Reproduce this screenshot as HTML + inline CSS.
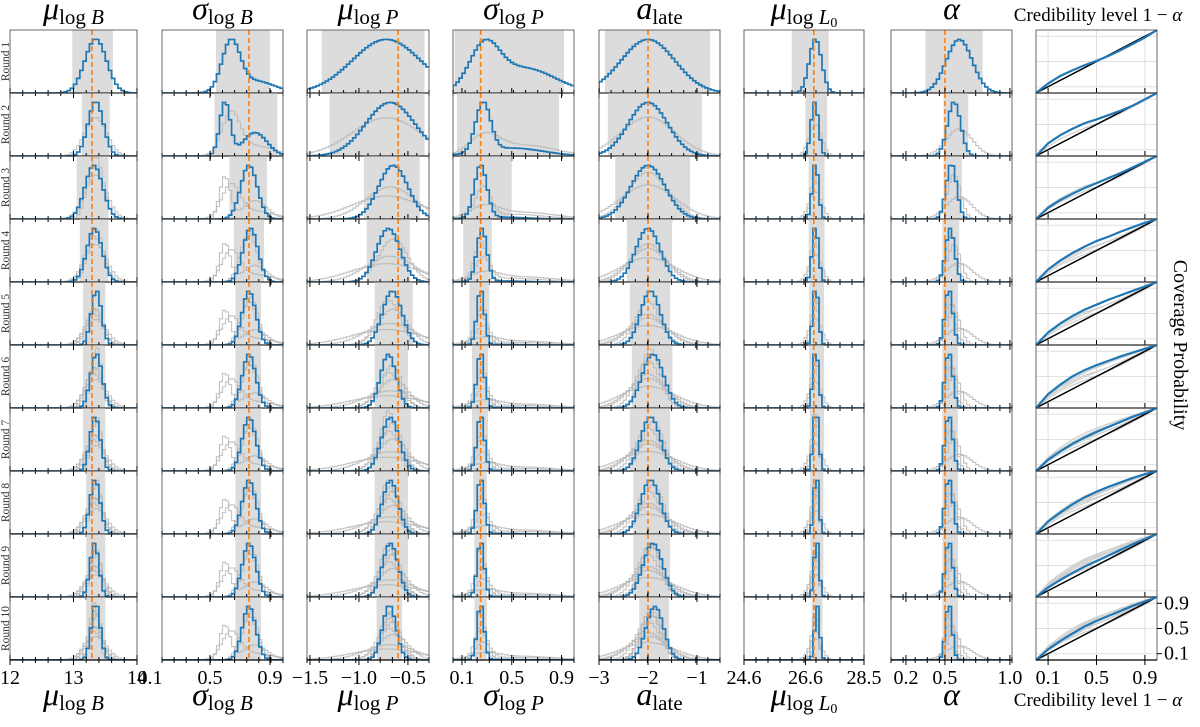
<!DOCTYPE html>
<html><head><meta charset="utf-8"><style>
html,body{margin:0;padding:0;background:#fff;}
svg{display:block;font-family:"Liberation Serif",serif;}
</style></head><body>
<svg id="fig" width="1200" height="727" viewBox="0 0 1200 727" xmlns="http://www.w3.org/2000/svg"></svg>
<script>
// ---- data (per round 1..10) ----
const rounds = [1,2,3,4,5,6,7,8,9,10];
// mu_log_B
const muB_truth = 13.29;
const muB_mean = [13.35,13.35,13.32,13.33,13.36,13.36,13.34,13.34,13.33,13.35];
const muB_sd   = [0.17,0.12,0.14,0.12,0.08,0.09,0.08,0.08,0.07,0.07];
const muB_lo   = [12.98,13.13,13.05,13.1,13.15,13.15,13.15,13.2,13.2,13.2];
const muB_hi   = [13.62,13.57,13.55,13.55,13.5,13.5,13.5,13.5,13.5,13.5];
// sigma_log_B
const sgB_truth = 0.76;
const sgB_mean = [0.64,0.6,0.76,0.77,0.76,0.76,0.76,0.76,0.76,0.76];
const sgB_sd   = [0.06,0.035,0.055,0.05,0.045,0.045,0.045,0.045,0.045,0.045];
const sgB_mean2= [0.8,0.8,0.76,0.77,0.76,0.76,0.76,0.76,0.76,0.76];
const sgB_sd2  = [0.13,0.08,0.1,0.1,0.1,0.1,0.1,0.1,0.1,0.1];
const sgB_w2   = [0.35,0.5,0,0,0,0,0,0,0,0];
const sgB_lo   = [0.54,0.53,0.63,0.66,0.67,0.67,0.67,0.67,0.67,0.67];
const sgB_hi   = [0.9,0.95,0.88,0.86,0.84,0.84,0.84,0.84,0.84,0.84];
// mu_log_P
const muP_truth = -0.6;
const muP_mean = [-0.72,-0.68,-0.65,-0.7,-0.66,-0.7,-0.68,-0.68,-0.68,-0.69];
const muP_sd   = [0.35,0.25,0.15,0.12,0.1,0.08,0.09,0.08,0.08,0.07];
const muP_lo   = [-1.38,-1.3,-0.95,-0.92,-0.84,-0.84,-0.87,-0.84,-0.84,-0.82];
const muP_hi   = [-0.33,-0.33,-0.38,-0.48,-0.45,-0.5,-0.47,-0.5,-0.5,-0.56];
// sigma_log_P
const sgP_truth = 0.25;
const sgP_mean = [0.28,0.27,0.25,0.26,0.25,0.25,0.25,0.25,0.25,0.25];
const sgP_sd   = [0.12,0.06,0.05,0.04,0.03,0.03,0.03,0.03,0.028,0.028];
const sgP_mean2= [0.6,0.5,0.4,0.4,0.4,0.4,0.4,0.4,0.4,0.4];
const sgP_sd2  = [0.25,0.25,0.2,0.2,0.2,0.2,0.2,0.2,0.2,0.2];
const sgP_w2   = [0.55,0.4,0.12,0.08,0.05,0.05,0.05,0.05,0.05,0.05];
const sgP_lo   = [0.04,0.06,0.08,0.11,0.16,0.18,0.18,0.19,0.2,0.2];
const sgP_hi   = [0.92,0.88,0.5,0.34,0.32,0.31,0.31,0.3,0.3,0.3];
// a_late
const aL_truth = -2.0;
const aL_mean = [-2.0,-2.0,-2.0,-2.0,-1.95,-1.9,-1.95,-1.95,-1.9,-1.86];
const aL_sd   = [0.55,0.4,0.35,0.25,0.2,0.22,0.2,0.2,0.2,0.18];
const aL_lo   = [-2.88,-2.82,-2.67,-2.43,-2.37,-2.33,-2.37,-2.3,-2.3,-2.18];
const aL_hi   = [-0.73,-0.9,-1.14,-1.51,-1.55,-1.5,-1.55,-1.57,-1.55,-1.57];
// mu_log_L0
const L0_truth = 26.87;
const L0_mean = [26.92,26.9,26.92,26.92,26.93,26.93,26.94,26.95,26.96,26.98];
const L0_sd   = [0.2,0.12,0.1,0.1,0.09,0.09,0.09,0.08,0.08,0.08];
const L0_lo   = [26.15,26.6,26.7,26.7,26.72,26.72,26.74,26.75,26.76,26.8];
const L0_hi   = [27.35,27.3,27.22,27.22,27.2,27.2,27.2,27.18,27.18,27.15];
// alpha
const al_truth = 0.5;
const al_mean = [0.61,0.57,0.55,0.54,0.53,0.53,0.53,0.53,0.53,0.53];
const al_sd   = [0.1,0.05,0.04,0.035,0.03,0.03,0.03,0.03,0.028,0.025];
const al_lo   = [0.35,0.49,0.49,0.48,0.48,0.48,0.48,0.48,0.48,0.48];
const al_hi   = [0.79,0.68,0.63,0.61,0.6,0.6,0.6,0.6,0.6,0.6];
// coverage
const credLevels = [0,0.1,0.2,0.3,0.4,0.5,0.6,0.7,0.8,0.9,1];
const cov1 = [0,0.15,0.27,0.36,0.44,0.51,0.59,0.68,0.78,0.88,1];
const cov2 = [0,0.2,0.33,0.43,0.52,0.58,0.65,0.72,0.8,0.9,1];
const cov3 = [0,0.18,0.3,0.4,0.49,0.57,0.65,0.73,0.82,0.91,1];
const cov4 = [0,0.2,0.34,0.46,0.56,0.65,0.72,0.8,0.87,0.94,1];
const cov5 = [0,0.2,0.34,0.46,0.56,0.64,0.72,0.79,0.86,0.93,1];
const cov6 = [0,0.22,0.37,0.5,0.6,0.68,0.75,0.82,0.88,0.94,1];
const cov7 = [0,0.18,0.31,0.43,0.53,0.62,0.7,0.78,0.86,0.93,1];
const cov8 = [0,0.2,0.34,0.47,0.58,0.67,0.75,0.82,0.89,0.95,1];
const cov9 = [0,0.15,0.27,0.38,0.48,0.57,0.66,0.75,0.84,0.92,1];
const cov10= [0,0.17,0.3,0.42,0.53,0.62,0.7,0.78,0.86,0.93,1];
const coverage = [cov1,cov2,cov3,cov4,cov5,cov6,cov7,cov8,cov9,cov10];
const covTicks = [0.1,0.5,0.9];
const covTickLabels = ['0.1','0.5','0.9'];

const zeros = rounds.map(()=>0);
const cols = [
 {key:'mu-log-b', L:10, W:127, d0:12.0, d1:14.0, truth:muB_truth, m:muB_mean, s:muB_sd, m2:muB_mean, s2:muB_sd, w2:zeros, lo:muB_lo, hi:muB_hi, ticks:[12,13,14], labels:['12','13','14'], title:['μ','log ','B']},
 {key:'sigma-log-b', L:162, W:121, d0:0.18, d1:0.987, truth:sgB_truth, m:sgB_mean, s:sgB_sd, m2:sgB_mean2, s2:sgB_sd2, w2:sgB_w2, lo:sgB_lo, hi:sgB_hi, ticks:[0.1,0.5,0.9], labels:['0.1','0.5','0.9'], title:['σ','log ','B']},
 {key:'mu-log-p', L:307, W:122, d0:-1.53, d1:-0.285, truth:muP_truth, m:muP_mean, s:muP_sd, m2:muP_mean, s2:muP_sd, w2:zeros, lo:muP_lo, hi:muP_hi, ticks:[-1.5,-1.0,-0.5], labels:['−1.5','−1.0','−0.5'], title:['μ','log ','P']},
 {key:'sigma-log-p', L:453, W:121, d0:0.028, d1:1.0, truth:sgP_truth, m:sgP_mean, s:sgP_sd, m2:sgP_mean2, s2:sgP_sd2, w2:sgP_w2, lo:sgP_lo, hi:sgP_hi, ticks:[0.1,0.5,0.9], labels:['0.1','0.5','0.9'], title:['σ','log ','P']},
 {key:'a-late', L:599, W:121, d0:-3.0, d1:-0.53, truth:aL_truth, m:aL_mean, s:aL_sd, m2:aL_mean, s2:aL_sd, w2:zeros, lo:aL_lo, hi:aL_hi, ticks:[-3,-2,-1], labels:['−3','−2','−1'], title:['a','late','']},
 {key:'mu-log-l0', L:744, W:120, d0:24.6, d1:28.5, truth:L0_truth, m:L0_mean, s:L0_sd, m2:L0_mean, s2:L0_sd, w2:zeros, lo:L0_lo, hi:L0_hi, ticks:[24.6,26.6,28.5], labels:['24.6','26.6','28.5'], title:['μ','log ','L0']},
 {key:'alpha', L:891, W:121, d0:0.085, d1:1.016, truth:al_truth, m:al_mean, s:al_sd, m2:al_mean, s2:al_sd, w2:zeros, lo:al_lo, hi:al_hi, ticks:[0.2,0.5,1.0], labels:['0.2','0.5','1.0'], title:['α','','']}
];
const TOP=30, RH=63, NB=40;
const CL=1036, CW=121;
const NS='http://www.w3.org/2000/svg';
const svg=document.getElementById('fig');
function mk(tag,attrs,parent){const e=document.createElementNS(NS,tag);for(const k in attrs)e.setAttribute(k,attrs[k]);(parent||svg).appendChild(e);return e;}
function dens(c,r,v){const g=(x,m,s)=>Math.exp(-0.5*((x-m)/s)**2)/s;const w=c.w2[r];return (1-w)*g(v,c.m[r],c.s[r])+w*g(v,c.m2[r],c.s2[r]);}
const defs=mk('defs',{});

cols.forEach((c,ci)=>{
  const xs=v=>c.L+(v-c.d0)/(c.d1-c.d0)*c.W;
  rounds.forEach((rn,r)=>{
    const y0=TOP+r*RH, yb=y0+RH;
    const g=mk('g',{});
    
    
    const cp=mk('clipPath',{id:'cp'+ci+'_'+r},defs);
    mk('rect',{x:c.L,y:y0,width:c.W,height:RH},cp);
    const band=mk('rect',{x:xs(c.lo[r]),y:y0,width:xs(c.hi[r])-xs(c.lo[r]),height:RH,fill:'#dcdcdc','clip-path':'url(#cp'+ci+'_'+r+')'},g);
    
    
    const bw=(c.d1-c.d0)/NB;
    const hist=rr=>{const a=[];for(let i=0;i<NB;i++)a.push(dens(c,rr,c.d0+(i+0.5)*bw));return a;};
    const cur=hist(r);const mx=Math.max(...cur);
    const ys=d=>yb-d/mx*RH*0.85;
    const path=h=>{let p='M'+c.L+','+yb;for(let i=0;i<NB;i++){const xa=xs(c.d0+i*bw),xb=xs(c.d0+(i+1)*bw),yy=ys(h[i]);p+=' L'+xa+','+yy+' L'+xb+','+yy;}return p;};
    for(let pr=0;pr<r;pr++){
      const gp=mk('path',{d:path(hist(pr)),fill:'none',stroke:'#b8b8b8','stroke-width':1.2,opacity:0.8,'clip-path':'url(#cp'+ci+'_'+r+')'},g);
      
      
    }
    const bp=mk('path',{d:path(cur),fill:'none',stroke:'#1f77b4','stroke-width':1.7,'clip-path':'url(#cp'+ci+'_'+r+')'},g);
    
    
    const tl=mk('line',{x1:xs(c.truth),x2:xs(c.truth),y1:y0,y2:yb,stroke:'#ff7f0e','stroke-width':1.6,'stroke-dasharray':'5,3'},g);
    
    
    mk('rect',{x:c.L,y:y0,width:c.W,height:RH,fill:'none',stroke:'#444','stroke-width':0.8},g);
    mk('line',{x1:c.L,x2:c.L+c.W,y1:yb,y2:yb,stroke:'#000','stroke-width':1.2},g);
    for(let k=0;k<=10;k++){const tx=c.L+k*c.W/10;mk('line',{x1:tx,x2:tx,y1:yb-3,y2:yb+3,stroke:'#000','stroke-width':1},g);}
    c.ticks.forEach(tv=>{const tx=xs(tv);if(tx>=c.L-1&&tx<=c.L+c.W+1)mk('line',{x1:tx,x2:tx,y1:yb-5,y2:yb+5,stroke:'#000','stroke-width':1},g);});
  });
  // titles (drawn after panels)
  const t=mk('text',{x:c.L+c.W/2,y:19,'text-anchor':'middle','font-size':32});
  
  
  const t2=mk('text',{x:c.L+c.W/2,y:705,'text-anchor':'middle','font-size':32});
  
  
  [t,t2].forEach(tt=>{
    mk('tspan',{'font-style':'italic'},tt).textContent=c.title[0];
    if(c.title[1]){const s=mk('tspan',{'font-size':21,dy:5},tt);s.textContent=c.title[1];}
    if(c.title[2]==='L0'){mk('tspan',{'font-size':21,'font-style':'italic'},tt).textContent='L';mk('tspan',{'font-size':14,dy:3},tt).textContent='0';}
    else if(c.title[2]){mk('tspan',{'font-size':21,'font-style':'italic'},tt).textContent=c.title[2];}
  });
  c.ticks.forEach((tv,i)=>{
    const tt=mk('text',{x:xs(tv),y:684,'text-anchor':'middle','font-size':20});
    
    
    tt.textContent=c.labels[i];
  });
});
// round labels
rounds.forEach((rn,r)=>{
  const yc=TOP+r*RH+RH/2;
  const t=mk('text',{x:0,y:0,transform:'translate(9,'+yc+') rotate(-90)','text-anchor':'middle','font-size':11.5,fill:'#333'});
  
  
  t.textContent='Round '+rn;
});
// coverage panels
const cx=v=>CL+v*CW;
rounds.forEach((rn,r)=>{
  const y0=TOP+r*RH, yb=y0+RH;
  const cy=v=>yb-v*RH;
  const g=mk('g',{});
  
  
  covTicks.forEach(v=>{
    mk('line',{x1:cx(v),x2:cx(v),y1:y0,y2:yb,stroke:'#e0e0e0','stroke-width':1},g);
    mk('line',{x1:CL,x2:CL+CW,y1:cy(v),y2:cy(v),stroke:'#e0e0e0','stroke-width':1},g);
  });
  const lp=arr=>credLevels.map((v,i)=>(i?'L':'M')+cx(v)+','+cy(arr[i])).join(' ');
  for(let pr=0;pr<r;pr++){const p=mk('path',{d:lp(coverage[pr]),fill:'none',stroke:'#cfcfcf','stroke-width':1.2},g);
    
    }
  const d=mk('line',{x1:cx(0),y1:cy(0),x2:cx(1),y2:cy(1),stroke:'#000','stroke-width':1.5},g);
  
  
  const b=mk('path',{d:lp(coverage[r]),fill:'none',stroke:'#1f77b4','stroke-width':2.2},g);
  
  
  mk('rect',{x:CL,y:y0,width:CW,height:RH,fill:'none',stroke:'#444','stroke-width':0.8},g);
  mk('line',{x1:CL,x2:CL+CW,y1:yb,y2:yb,stroke:'#000','stroke-width':1.2},g);
  covTicks.forEach(v=>mk('line',{x1:cx(v),x2:cx(v),y1:yb-5,y2:yb+5,stroke:'#000','stroke-width':1},g));
  if(r===9){covTicks.forEach((v,i)=>{
    mk('line',{x1:CL+CW,x2:CL+CW+5,y1:cy(v),y2:cy(v),stroke:'#000','stroke-width':1},g);
    const tt=mk('text',{x:CL+CW+7,y:cy(v)+6,'font-size':20});
    
    
    tt.textContent=covTickLabels[i];
  });}
});
covTicks.forEach((v,i)=>{const tt=mk('text',{x:cx(v),y:684,'text-anchor':'middle','font-size':20});
  
  
  tt.textContent=covTickLabels[i];});
[[21,'coverage-top-title'],[706,'coverage-x-axis-title']].forEach(([yy,nm])=>{
  const t=mk('text',{x:1098,y:yy,'text-anchor':'middle','font-size':19});
  
  
  t.textContent='Credibility level 1 − ';
  mk('tspan',{'font-style':'italic'},t).textContent='α';
});
const yl=mk('text',{x:0,y:0,transform:'translate(1174,345) rotate(90)','text-anchor':'middle','font-size':20});


yl.textContent='Coverage Probability';
</script>
</body></html>
